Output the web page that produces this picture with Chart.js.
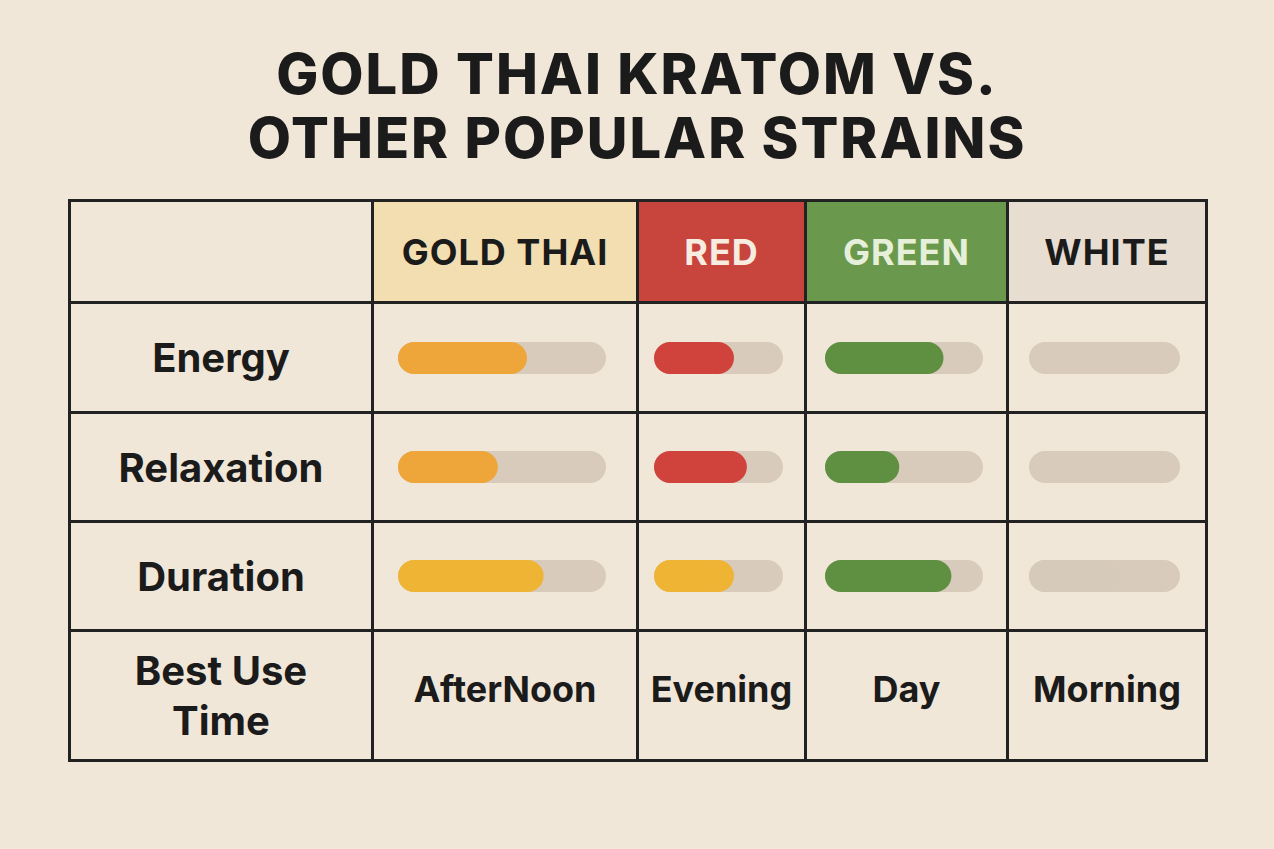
<!DOCTYPE html>
<html>
<head>
<meta charset="utf-8">
<script src="https://cdn.jsdelivr.net/npm/chart.js@4"></script>
<style>
  body { margin: 0; background: #f1e7d8; font-family: Inter, "DejaVu Sans", sans-serif; }
  #wrap { position: relative; width: 1274px; height: 849px; }
  h1 { position: absolute; top: 42px; left: 0; width: 1274px; margin: 0; text-align: center;
       font-size: 56px; font-weight: 800; letter-spacing: 2px; line-height: 64px; color: #1b1b1b; }
  table { position: absolute; left: 68px; top: 199px; border-collapse: collapse; }
  td { border: 3px solid #222; padding: 0; text-align: center; color: #1b1b1b; font-weight: 700; }
  td.lab { font-size: 40px; }
  td.head { font-size: 36px; letter-spacing: 1px; }
  td.time { font-size: 36px; padding-bottom: 14px; }
  canvas { display: block; margin: 0 auto; position: relative; left: -3px; }
</style>
</head>
<body>
<div id="wrap">
  <h1>GOLD THAI KRATOM VS.<br>OTHER POPULAR STRAINS</h1>
  <table id="tbl"></table>
</div>
<script>
const strains = ['GOLD THAI', 'RED', 'GREEN', 'WHITE'];
const headColors = ['#f2deb0', '#c8453d', '#6a994d', '#e7ded1'];
const headText = ['#1b1b1b', '#f6ece0', '#e6efd9', '#1b1b1b'];
const rows = ['Energy', 'Relaxation', 'Duration'];
const energy = [62, 62, 75, 0];
const relaxation = [48, 72, 47, 0];
const duration = [70, 62, 80, 60];
const bestTime = ['AfterNoon', 'Evening', 'Day', 'Morning'];
const fillColors = [
  ['#eea53a', '#d0433d', '#5f8f41', '#d6cabb'],
  ['#eea53a', '#d0433d', '#5f8f41', '#d6cabb'],
  ['#f0b434', '#f0b434', '#5f8f41', '#d6cabb']
];

const colW = [303, 265, 168, 202, 199];
const rowH = [102, 110, 109, 109, 130];
const trackW = [208, 129, 158, 151];
const values = [energy, relaxation, duration];

const tbl = document.getElementById('tbl');
let html = '<tr>';
html += `<td style="width:${colW[0]-3}px;height:${rowH[0]-3}px"></td>`;
strains.forEach((s, i) => {
  html += `<td class="head" style="width:${colW[i+1]-3}px;background:${headColors[i]};color:${headText[i]}">${s}</td>`;
});
html += '</tr>';
rows.forEach((r, ri) => {
  html += `<tr><td class="lab" style="height:${rowH[ri+1]-3}px">${r}</td>`;
  strains.forEach((s, ci) => {
    html += `<td><canvas id="c${ri}_${ci}" width="${trackW[ci]}" height="34" style="width:${trackW[ci]}px;height:34px"></canvas></td>`;
  });
  html += '</tr>';
});
html += `<tr><td class="lab" style="height:${rowH[4]-3}px;line-height:50px">Best Use<br>Time</td>`;
bestTime.forEach(t => { html += `<td class="time">${t}</td>`; });
html += '</tr>';
tbl.innerHTML = html;

rows.forEach((r, ri) => {
  strains.forEach((s, ci) => {
    new Chart(document.getElementById(`c${ri}_${ci}`), {
      type: 'bar',
      data: {
        labels: [r],
        datasets: [
          { data: [values[ri][ci]], backgroundColor: fillColors[ri][ci], borderRadius: 16, borderSkipped: false },
          { data: [100], backgroundColor: '#d8cbbb', borderRadius: 16, borderSkipped: false }
        ]
      },
      options: {
        indexAxis: 'y',
        responsive: false,
        animation: false,
        layout: { padding: 0 },
        datasets: { bar: { grouped: false, barPercentage: 1, categoryPercentage: 0.94 } },
        plugins: { legend: { display: false }, tooltip: { enabled: false } },
        scales: {
          x: { display: false, min: 0, max: 100 },
          y: { display: false }
        }
      }
    });
  });
});
</script>
</body>
</html>
